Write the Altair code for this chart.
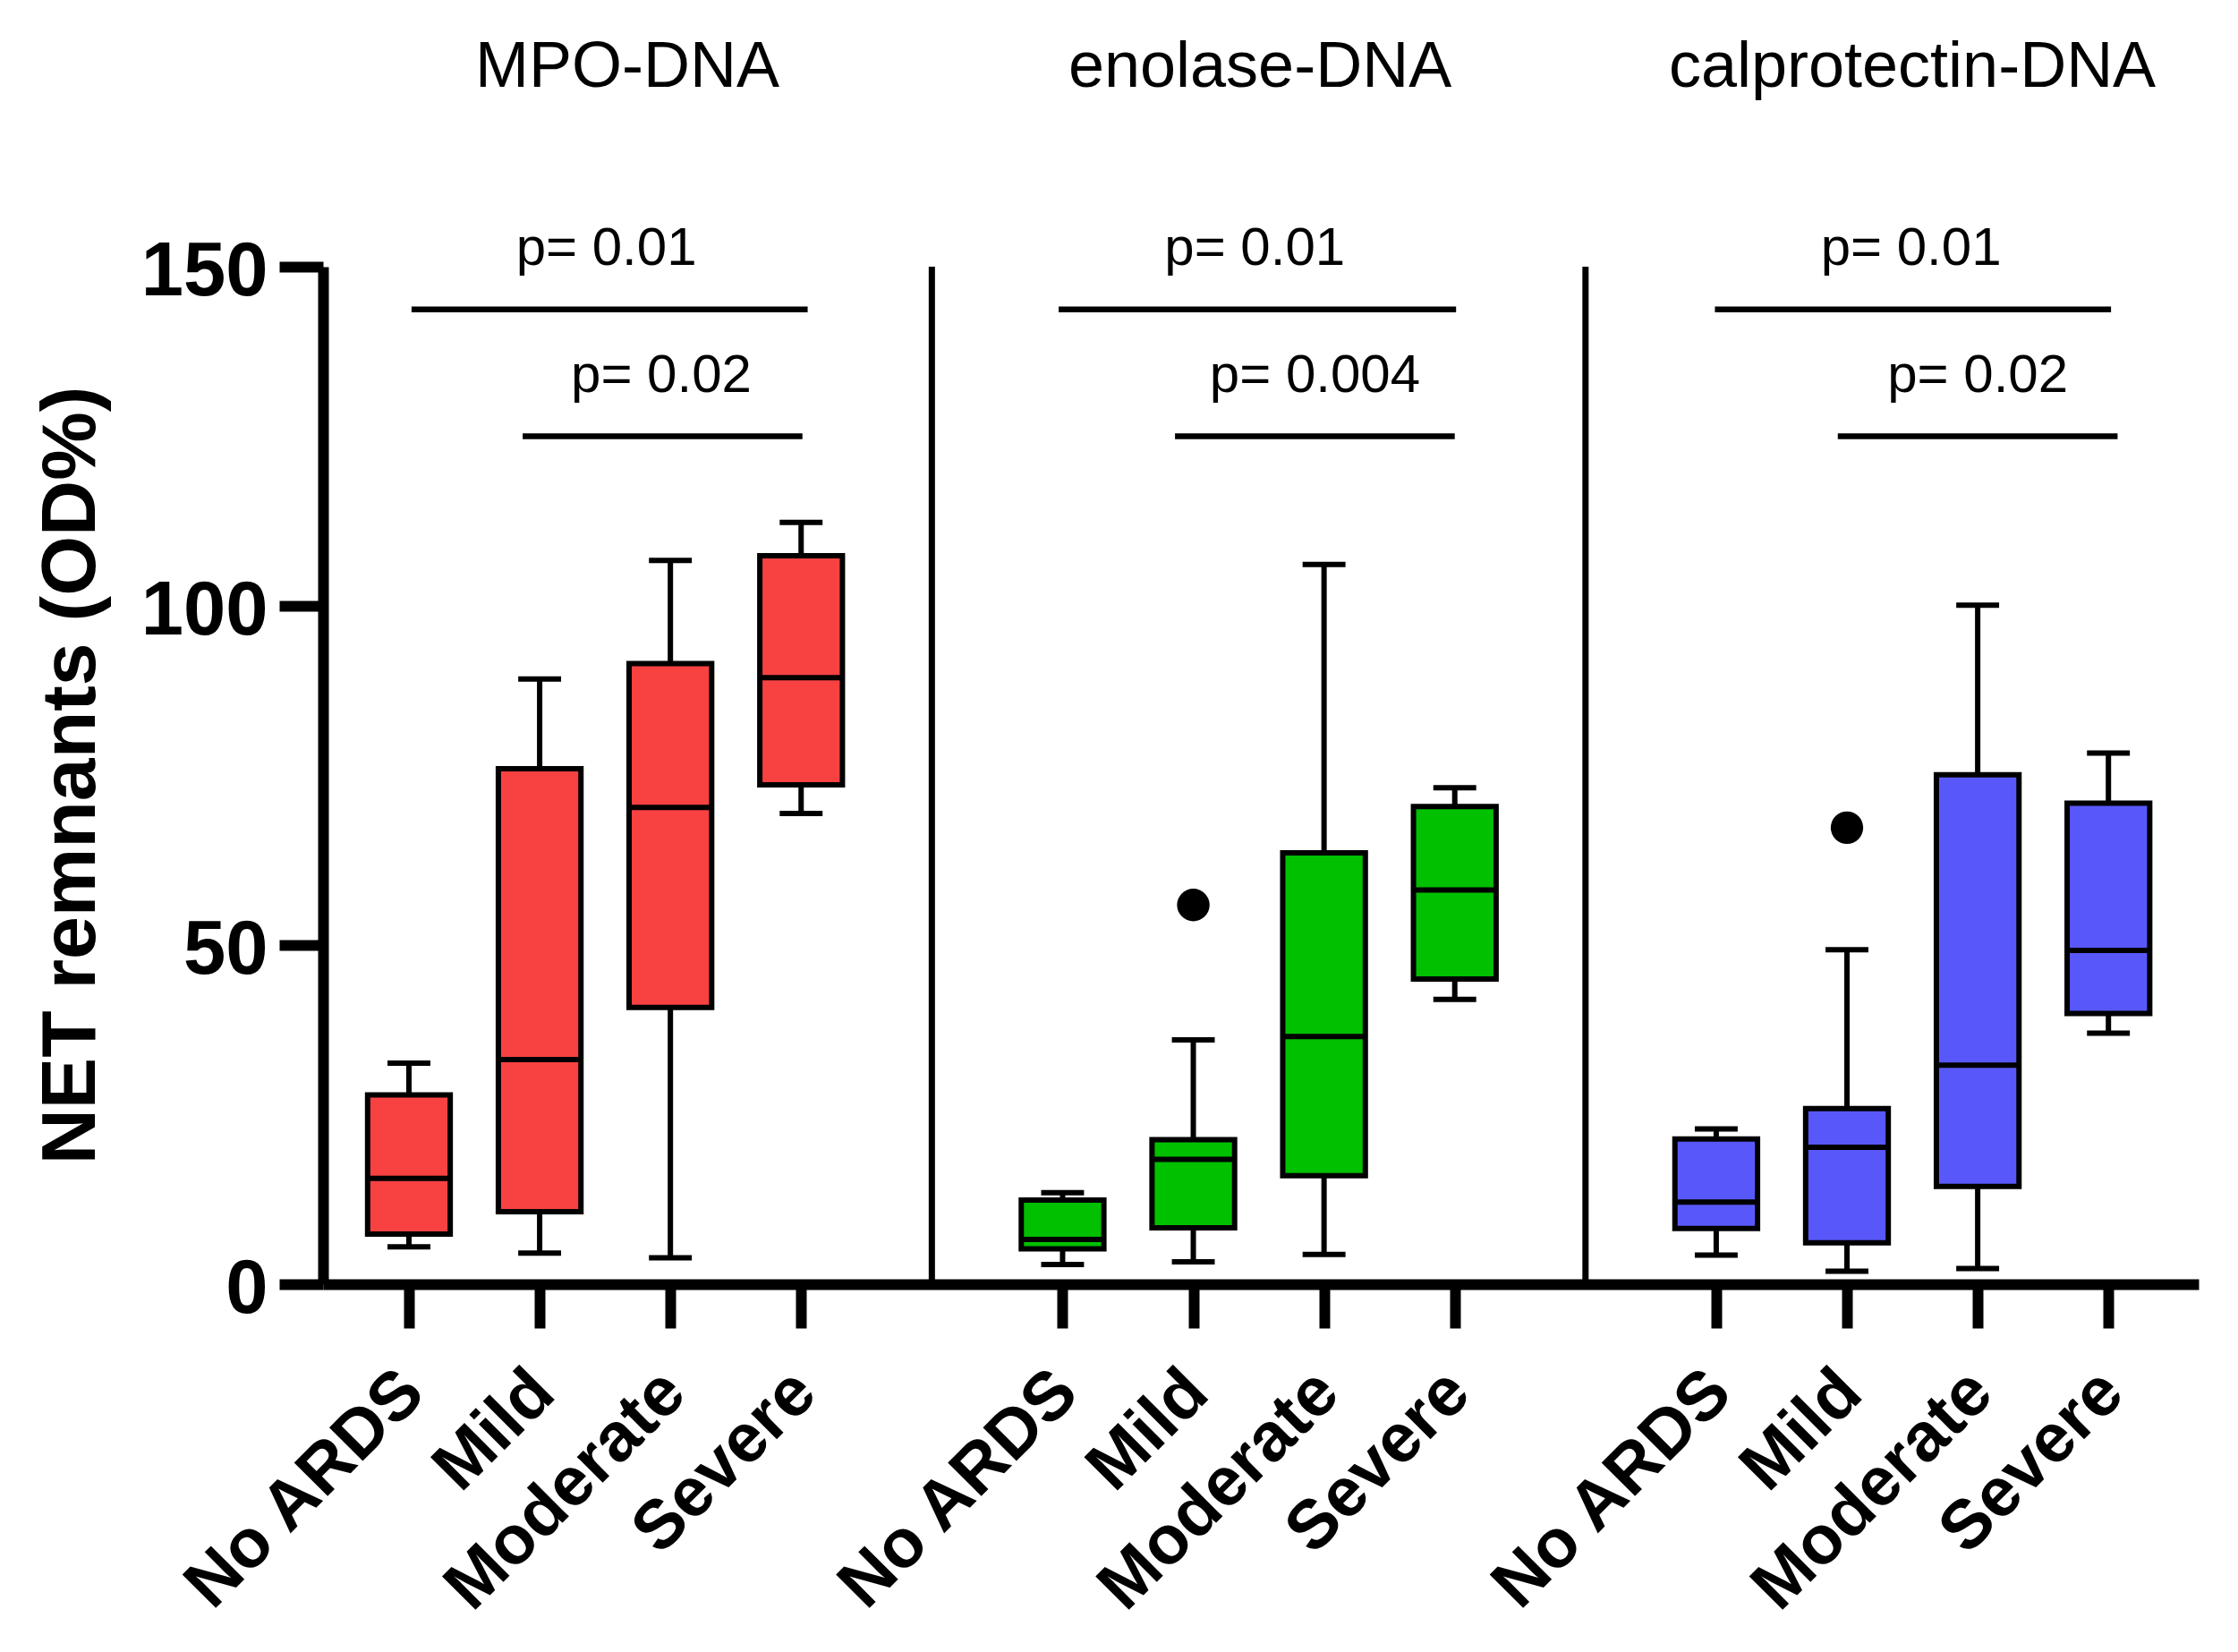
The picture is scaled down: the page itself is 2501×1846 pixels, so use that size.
import altair as alt
import pandas as pd

# ---------------- data ----------------
panels = ["MPO-DNA", "enolase-DNA", "calprotectin-DNA"]
groups = ["No ARDS", "Mild", "Moderate", "Severe"]
colors = ["#F84141", "#00C000", "#5858FA"]

mpo_low = [5.5, 4.6, 3.9, 69.4]
mpo_q1 = [7.4, 10.7, 40.8, 73.6]
mpo_med = [15.6, 33.1, 70.3, 89.4]
mpo_q3 = [27.9, 76.0, 91.5, 107.4]
mpo_high = [32.6, 89.2, 106.7, 112.3]

eno_low = [2.9, 3.3, 4.4, 42.0]
eno_q1 = [5.2, 8.3, 16.0, 45.0]
eno_med = [6.6, 18.4, 36.5, 58.1]
eno_q3 = [12.4, 21.3, 63.6, 70.4]
eno_high = [13.5, 36.0, 106.1, 73.2]

cal_low = [4.3, 1.9, 2.3, 37.0]
cal_q1 = [8.2, 6.1, 14.4, 39.9]
cal_med = [12.1, 20.2, 32.3, 49.2]
cal_q3 = [21.4, 25.9, 75.1, 70.9]
cal_high = [22.9, 49.3, 100.1, 78.3]

outlier_panel = ["enolase-DNA", "calprotectin-DNA"]
outlier_group = ["Mild", "Mild"]
outlier_value = [55.9, 67.3]

# significance annotations (x in category-slot units, y in data units)
p_labels = ["p= 0.01", "p= 0.02", "p= 0.01", "p= 0.004", "p= 0.01", "p= 0.02"]
p_text_x = [1.51, 1.93, 6.47, 6.93, 11.49, 12.0]
p_text_y = [150.3, 131.5, 150.3, 131.5, 150.3, 131.5]
bracket_x1 = [0.02, 0.87, 4.97, 5.86, 9.99, 10.93]
bracket_x2 = [3.05, 3.01, 8.01, 8.00, 13.02, 13.07]
bracket_y = [143.7, 125.0, 143.7, 125.0, 143.7, 125.0]

title_x = [1.67, 6.51, 11.50]
title_y = [176.5, 176.5, 176.5]

separator_x = [4, 9]

y_ticks = [0, 50, 100, 150]

# ---------------- tables ----------------
stats = {
    "MPO-DNA": (mpo_low, mpo_q1, mpo_med, mpo_q3, mpo_high),
    "enolase-DNA": (eno_low, eno_q1, eno_med, eno_q3, eno_high),
    "calprotectin-DNA": (cal_low, cal_q1, cal_med, cal_q3, cal_high),
}
SLOTS = len(groups) + 1
rows = []
for pi, p in enumerate(panels):
    lo, q1, md, q3, hi = stats[p]
    for gi, g in enumerate(groups):
        rows.append(dict(panel=p, group=g, pos=pi * SLOTS + gi,
                         low=lo[gi], q1=q1[gi], med=md[gi], q3=q3[gi], high=hi[gi]))
box_df = pd.DataFrame(rows)

out_df = pd.DataFrame({
    "panel": outlier_panel,
    "group": outlier_group,
    "value": outlier_value,
})
out_df["pos"] = [panels.index(p) * SLOTS + groups.index(g) for p, g in zip(outlier_panel, outlier_group)]

ann_df = pd.DataFrame({"label": p_labels, "tx": p_text_x, "ty": p_text_y,
                       "x1": bracket_x1, "x2": bracket_x2, "by": bracket_y})
title_df = pd.DataFrame({"title": panels, "tx": title_x, "ty": title_y})
sep_df = pd.DataFrame({"sx": separator_x, "y0": [0] * len(separator_x), "y1": [150] * len(separator_x)})

tick_positions = [pi * SLOTS + gi for pi in range(len(panels)) for gi in range(len(groups))]
label_list = ",".join("'" + g + "'" for g in groups)
label_expr = f"[{label_list}][datum.value % {SLOTS}]"

BOX_HALF = 0.316
CAP_HALF = 0.164
FONT = "Liberation Sans"

xscale = alt.Scale(domain=[-0.657, 13.69], nice=False, zero=False)
yscale = alt.Scale(domain=[0, 150], nice=False, zero=True)

x_axis = alt.Axis(values=tick_positions, labelExpr=label_expr, labelAngle=315,
                  labelAlign="right", labelBaseline="alphabetic", labelFont=FONT,
                  labelFontSize=77, labelFontWeight="bold", labelColor="black",
                  labelPadding=76, labelOffset=20, labelFlush=False, labelOverlap=False,
                  labelLimit=0,
                  tickSize=49, tickWidth=12, tickColor="black",
                  domainWidth=12, domainColor="black", grid=False, title=None)
y_axis = alt.Axis(values=y_ticks, labelFont=FONT, labelFontSize=85, labelFontWeight="bold",
                  labelColor="black", labelPadding=13, labelOffset=5, labelLimit=0,
                  tickSize=49, tickWidth=12, tickColor="black",
                  domainWidth=12, domainColor="black", grid=False,
                  title="NET remnants (OD%)", titleFont=FONT, titleFontSize=86,
                  titleFontWeight="bold", titleColor="black", titleAngle=270,
                  titleX=-256, titleY=568, titleAlign="center", titleBaseline="alphabetic",
                  titleLimit=0)

color_scale = alt.Scale(domain=panels, range=colors)

base = alt.Chart(box_df)

whiskers = base.mark_rule(color="black", strokeWidth=6).encode(
    x=alt.X("pos:Q", scale=xscale, axis=x_axis),
    y=alt.Y("low:Q", scale=yscale, axis=y_axis),
    y2="high:Q",
)

caps_low = base.mark_rule(color="black", strokeWidth=6).transform_calculate(
    cl=f"datum.pos - {CAP_HALF}", cr=f"datum.pos + {CAP_HALF}"
).encode(x=alt.X("cl:Q", scale=xscale), x2="cr:Q", y=alt.Y("low:Q", scale=yscale))

caps_high = base.mark_rule(color="black", strokeWidth=6).transform_calculate(
    cl=f"datum.pos - {CAP_HALF}", cr=f"datum.pos + {CAP_HALF}"
).encode(x=alt.X("cl:Q", scale=xscale), x2="cr:Q", y=alt.Y("high:Q", scale=yscale))

boxes = base.mark_rect(stroke="black", strokeWidth=6).transform_calculate(
    bl=f"datum.pos - {BOX_HALF}", br=f"datum.pos + {BOX_HALF}"
).encode(
    x=alt.X("bl:Q", scale=xscale), x2="br:Q",
    y=alt.Y("q1:Q", scale=yscale), y2="q3:Q",
    fill=alt.Fill("panel:N", scale=color_scale, legend=None),
)

medians = base.mark_rule(color="black", strokeWidth=6).transform_calculate(
    bl=f"datum.pos - {BOX_HALF}", br=f"datum.pos + {BOX_HALF}"
).encode(x=alt.X("bl:Q", scale=xscale), x2="br:Q", y=alt.Y("med:Q", scale=yscale))

outliers = alt.Chart(out_df).mark_circle(color="black", opacity=1, size=1320).encode(
    x=alt.X("pos:Q", scale=xscale), y=alt.Y("value:Q", scale=yscale)
)

separators = alt.Chart(sep_df).mark_rule(color="black", strokeWidth=7).encode(
    x=alt.X("sx:Q", scale=xscale), y=alt.Y("y0:Q", scale=yscale), y2="y1:Q"
)

brackets = alt.Chart(ann_df).mark_rule(color="black", strokeWidth=6.5).encode(
    x=alt.X("x1:Q", scale=xscale), x2="x2:Q", y=alt.Y("by:Q", scale=yscale)
)

p_text = alt.Chart(ann_df).mark_text(font=FONT, fontSize=60, color="black",
                                     align="center", baseline="alphabetic").encode(
    x=alt.X("tx:Q", scale=xscale), y=alt.Y("ty:Q", scale=yscale), text="label:N"
)

titles = alt.Chart(title_df).mark_text(font=FONT, fontSize=72, color="black",
                                       align="center", baseline="alphabetic").encode(
    x=alt.X("tx:Q", scale=xscale), y=alt.Y("ty:Q", scale=yscale), text="title:N"
)

chart = alt.layer(
    separators, brackets, whiskers, caps_low, caps_high, boxes, medians, outliers, p_text, titles
).properties(
    width=2096, height=1137,
    autosize=alt.AutoSizeParams(type="none"),
    padding={"left": 353, "top": 290, "right": 36, "bottom": 395},
    background="white",
).configure_view(strokeOpacity=0)

chart.save("out.html", embed_options={"renderer": "svg", "actions": False})
